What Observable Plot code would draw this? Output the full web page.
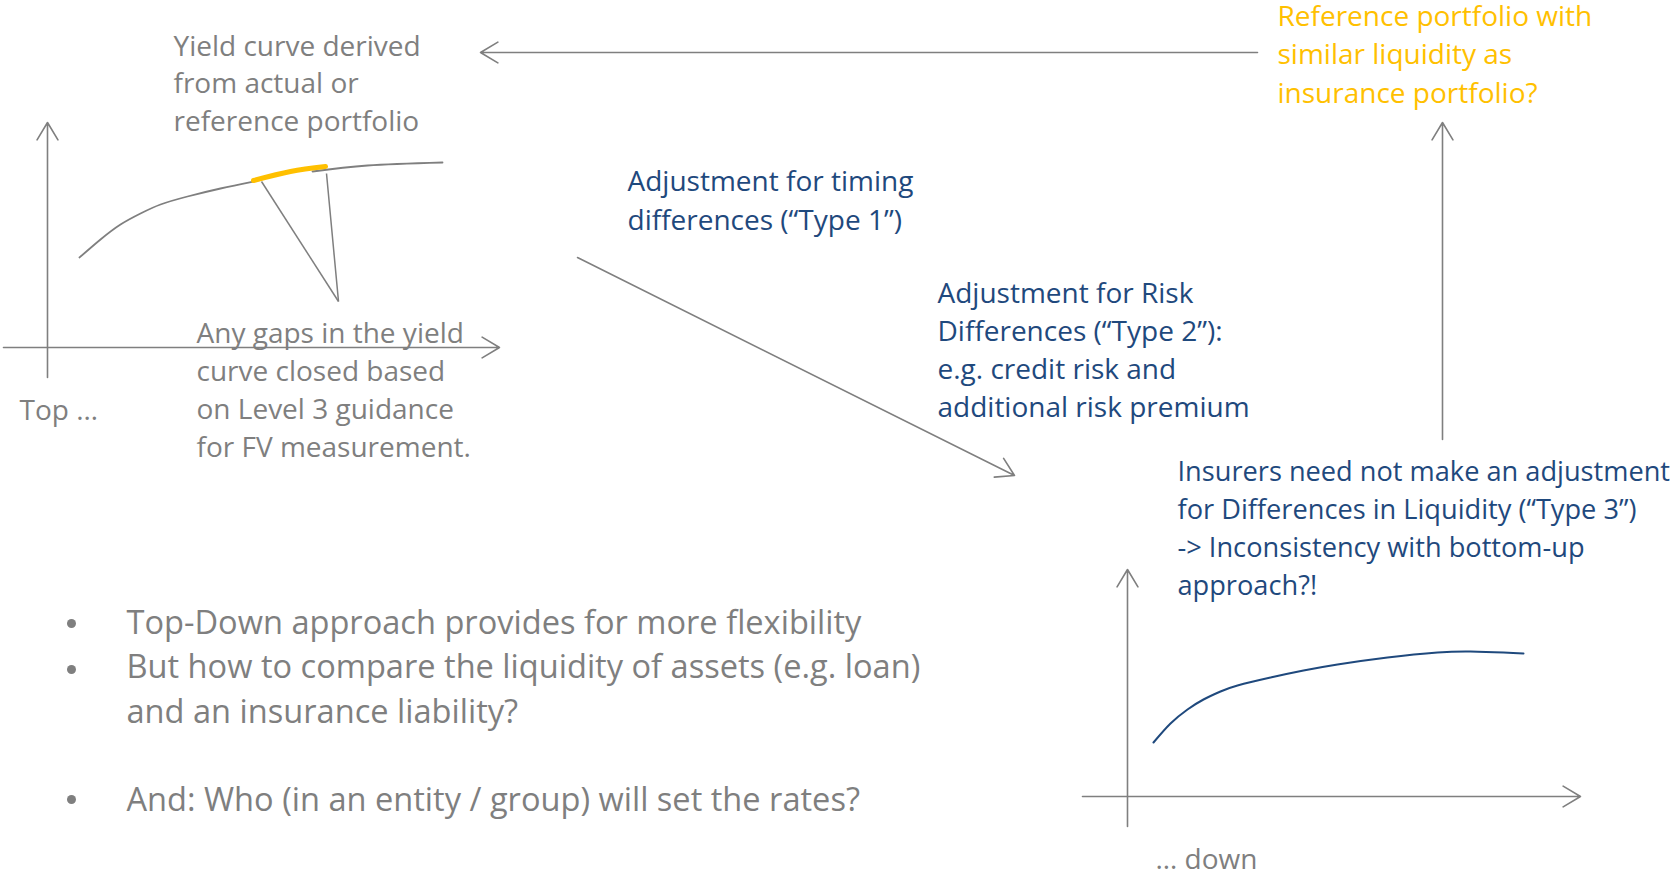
<!DOCTYPE html>
<html><head><meta charset="utf-8">
<script src="https://cdn.jsdelivr.net/npm/d3@7"></script>
<script src="https://cdn.jsdelivr.net/npm/@observablehq/plot@0.6"></script>
<style>html,body{margin:0;padding:0;background:#fff;overflow:hidden}</style>
</head><body><div id="chart"></div>
<script>
const GRAY = "#7f7f7f", BLUE = "#1f497d", GOLD = "#ffc000";

// Curves (diagram coordinates)
const yieldCurveLeft  = [[79,257],[100,239],[120,224],[140,213],[160,204],[187,196],[220,188],[253,181]];
const yieldCurveRight = [[312,171],[367,165],[442,162]];
const yieldGapSegment = [[253,180],[290,171],[325,166]];
const blueCurve = [[1153,742],[1170,723],[1187,709],[1203,699],[1220,691],[1237,685],[1270,677],[1303,670],[1337,664],[1387,657],[1437,652],[1470,651],[1503,652],[1523,653]];

// Arrows and connector lines
const arrows = [
  {x1:47, y1:377, x2:47, y2:122},
  {x1:3, y1:347, x2:499, y2:347},
  {x1:1127, y1:826, x2:1127, y2:569},
  {x1:1082, y1:796, x2:1580, y2:796},
  {x1:1257, y1:52, x2:480, y2:52},
  {x1:1442, y1:439, x2:1442, y2:122},
  {x1:577, y1:257, x2:1014, y2:475}
];
const pointers = [{x1:261,y1:181,x2:338,y2:301},{x1:326,y1:173,x2:338,y2:301}];

// Labels
const yieldLabel = ["Yield curve derived", "from actual or", "reference portfolio"];
const gapLabel = ["Any gaps in the yield", "curve closed based", "on Level 3 guidance", "for FV measurement."];
const type1Label = ["Adjustment for timing", "differences (\u201cType 1\u201d)"];
const type2Label = ["Adjustment for Risk", "Differences (\u201cType 2\u201d):", "e.g. credit risk and", "additional risk premium"];
const refLabel = ["Reference portfolio with", "similar liquidity as", "insurance portfolio?"];
const type3Label = ["Insurers need not make an adjustment", "for Differences in Liquidity (\u201cType 3\u201d)", "-> Inconsistency with bottom-up", "approach?!"];
const topLabel = ["Top \u2026"];
const downLabel = ["\u2026 down"];
const bulletLines = ["Top-Down approach provides for more flexibility", "But how to compare the liquidity of assets (e.g. loan)", "and an insurance liability?", "And: Who (in an entity / group) will set the rates?"];
const bulletBaselines = [633, 677, 722, 810];
const bulletDots = [[71,623],[71,669],[71,799]];

function block(lines, x, y0, step, color, size) {
  return lines.map((t, i) => ({text: t, x, y: y0 + i * step, color, size}));
}
const labels = [
  ...block(yieldLabel, 173, 55, 37.5, GRAY, 28),
  ...block(gapLabel, 196, 342, 38.3, GRAY, 28),
  ...block(topLabel, 19, 419, 0, GRAY, 28),
  ...block(downLabel, 1155, 868, 0, GRAY, 28),
  ...block(type1Label, 627, 190, 39, BLUE, 28),
  ...block(type2Label, 937, 302, 38.3, BLUE, 28),
  ...block(refLabel, 1277, 25, 38.5, GOLD, 28),
  ...block(type3Label, 1177, 480, 38, BLUE, 27.2)
];
const bullets = bulletLines.map((t, i) => ({text: t, x: 126, y: bulletBaselines[i]}));

const FONT = "'Open Sans', 'Noto Sans', sans-serif";

const plot = Plot.plot({
  width: 1677, height: 875,
  margin: 0,
  x: {domain: [0, 1677], range: [0, 1677], axis: null},
  y: {domain: [0, 875], range: [0, 875], axis: null},
  style: {fontFamily: FONT, background: "#fff"},
  marks: [
    Plot.line(yieldCurveLeft, {x: d => d[0], y: d => d[1], curve: "natural", stroke: GRAY, strokeWidth: 1.8}),
    Plot.line(yieldCurveRight, {x: d => d[0], y: d => d[1], curve: "natural", stroke: GRAY, strokeWidth: 1.8}),
    Plot.line(yieldGapSegment, {x: d => d[0], y: d => d[1], curve: "natural", stroke: GOLD, strokeWidth: 5}),
    Plot.line(blueCurve, {x: d => d[0], y: d => d[1], curve: "natural", stroke: BLUE, strokeWidth: 2}),
    Plot.link(pointers, {x1: "x1", y1: "y1", x2: "x2", y2: "y2", stroke: GRAY, strokeWidth: 1.5}),
    Plot.arrow(arrows, {x1: "x1", y1: "y1", x2: "x2", y2: "y2", stroke: GRAY, strokeWidth: 1.6, headLength: 19, headAngle: 62}),
    Plot.dot(bulletDots, {x: d => d[0], y: d => d[1], r: 4.5, fill: GRAY, stroke: null}),
    Plot.text(labels, {x: "x", y: "y", text: "text", fill: "color", fontSize: "size", textAnchor: "start", lineAnchor: "bottom", fontFamily: FONT}),
    Plot.text(bullets, {x: "x", y: "y", text: "text", fill: GRAY, textAnchor: "start", lineAnchor: "bottom", fontSize: 32.6, fontFamily: FONT})
  ]
});
document.getElementById("chart").appendChild(plot);
</script>
</body></html>
